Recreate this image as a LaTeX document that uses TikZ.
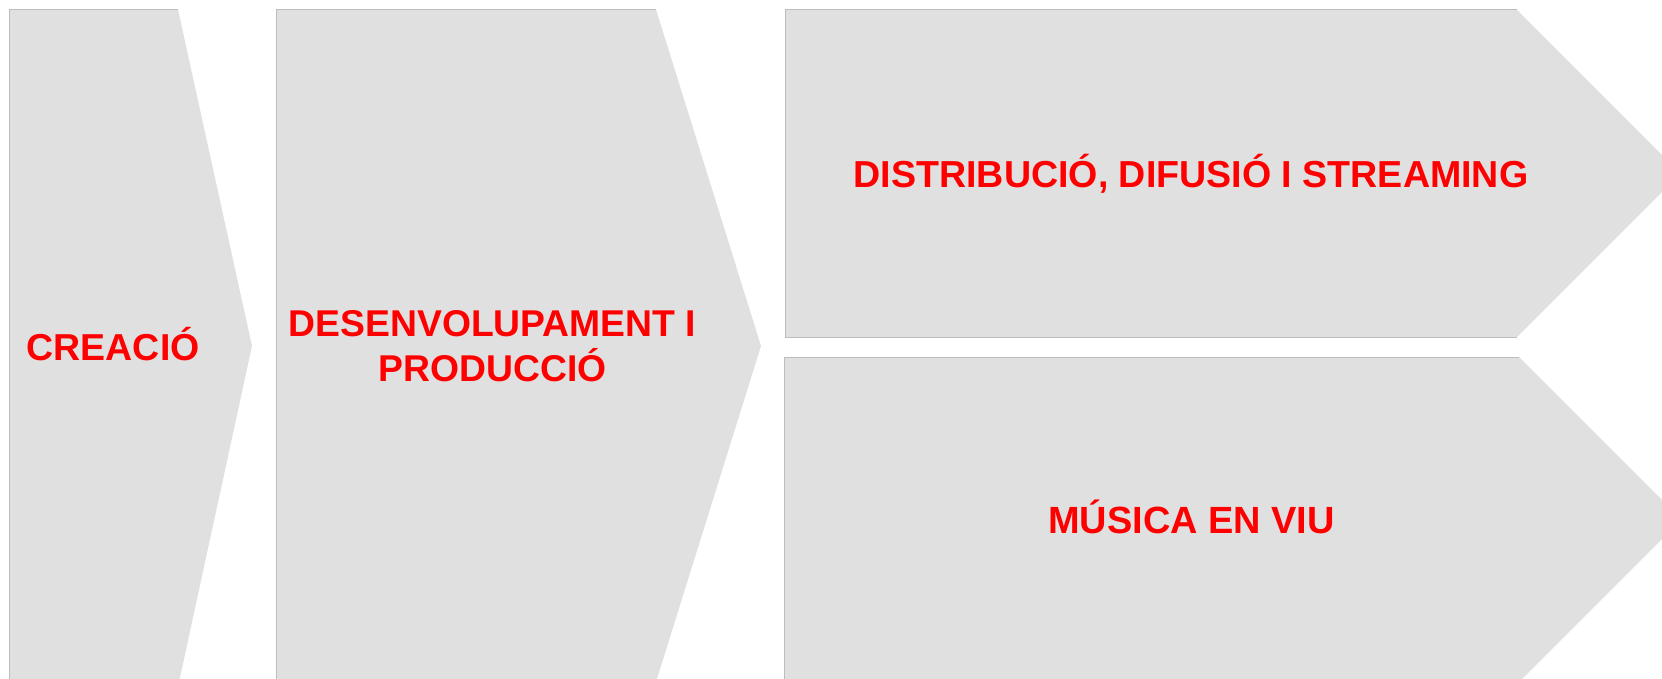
\documentclass[tikz,border=0pt]{standalone}
\usepackage{fontspec}
\setmainfont{Liberation Sans}
\definecolor{boxgray}{HTML}{E0E0E0}
\definecolor{edgegray}{HTML}{BDBDBD}
\definecolor{labelred}{HTML}{FF0000}
\begin{document}
\begin{tikzpicture}[x=1pt,y=-1pt,
  shapefill/.style={fill=boxgray},
  shapeedge/.style={draw=edgegray,line width=1pt},
  lbl/.style={text=labelred,inner sep=0pt,align=center}]
\useasboundingbox (0,0) rectangle (1662,679);
\clip (0,0) rectangle (1662,679);
% CREACIO chevron
\fill[shapefill] (9.5,9.5) -- (178,9.5) -- (252,346) -- (179,682) -- (9.5,682) -- cycle;
\draw[shapeedge] (9.5,682) -- (9.5,9.5) -- (178,9.5);
% DESENVOLUPAMENT chevron
\fill[shapefill] (276.5,9.5) -- (656,9.5) -- (761,346) -- (656,682) -- (276.5,682) -- cycle;
\draw[shapeedge] (276.5,682) -- (276.5,9.5) -- (656,9.5);
% DISTRIBUCIO arrow
\fill[shapefill] (785,10) -- (1517,10) -- (1680.5,173.5) -- (1517,337) -- (785,337) -- cycle;
\draw[shapeedge] (1517,337) -- (785,337) -- (785,10) -- (1517,10);
% MUSICA arrow
\fill[shapefill] (784.5,357) -- (1519,357) -- (1681.5,519.5) -- (1519,682) -- (784.5,682) -- cycle;
\draw[shapeedge] (784.5,682) -- (784.5,357) -- (1519,357);
% labels
\node[lbl,anchor=base west,font=\bfseries\fontsize{37.5}{44}\selectfont] (creacio) at (26.5,360.7) {CREACIÓ};
\node[lbl,anchor=base,font=\bfseries\fontsize{37.3}{45.7}\selectfont] (desenv) at (492.5,381.7) {DESENVOLUPAMENT I\\PRODUCCIÓ};
\node[lbl,anchor=base,font=\bfseries\fontsize{37.6}{44}\selectfont] (distrib) at (1191,187.7) {DISTRIBUCIÓ, DIFUSIÓ I STREAMING};
\node[lbl,anchor=base,font=\bfseries\fontsize{37.9}{44}\selectfont] (musica) at (1191.5,533.3) {MÚSICA EN VIU};
\end{tikzpicture}
\end{document}
